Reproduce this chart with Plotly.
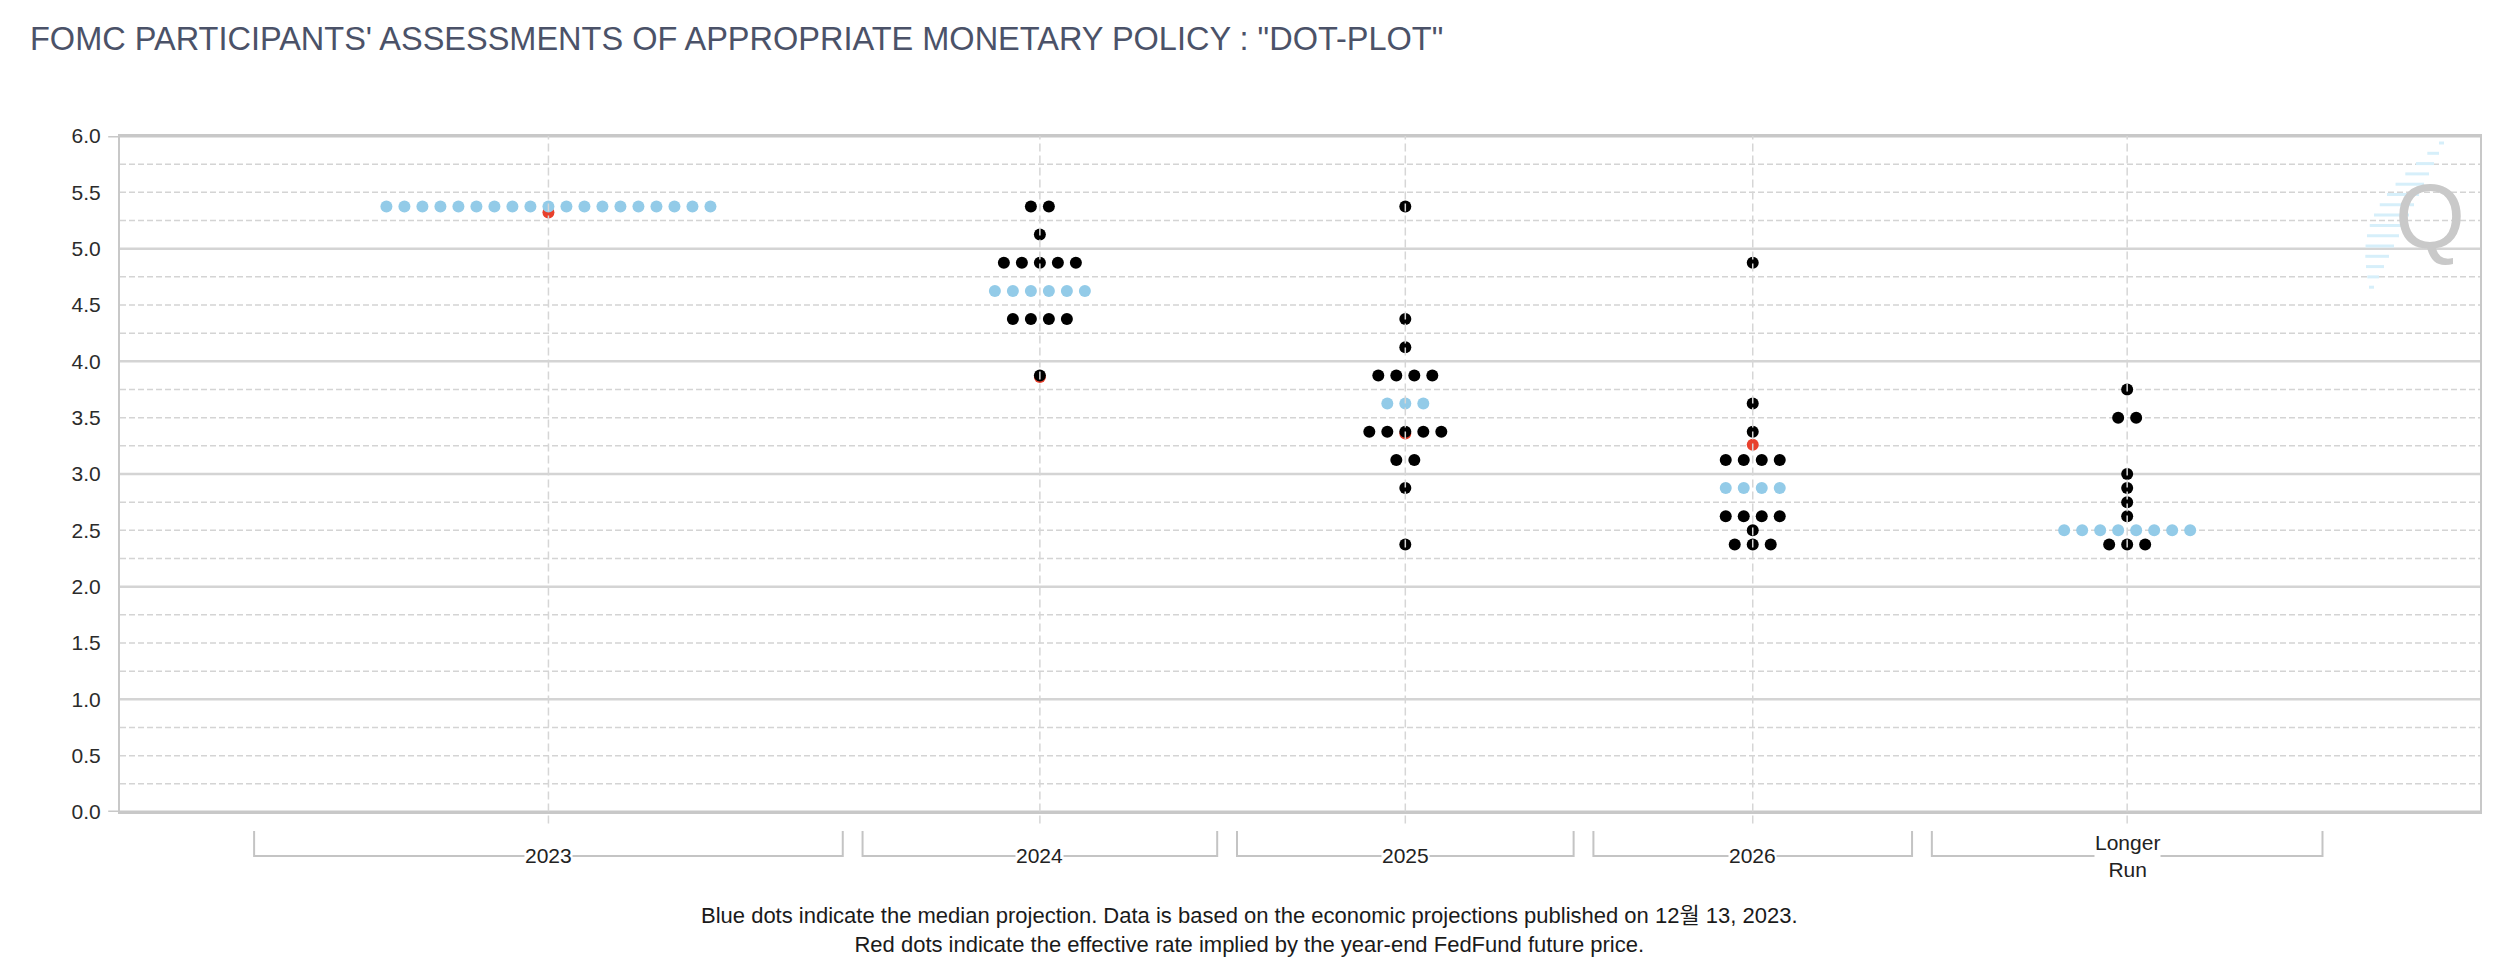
import numpy as np
import plotly.graph_objects as go

# FOMC dot plot, December 2023 projections
categories = ["2023", "2024", "2025", "2026", "Longer<br>Run"]

rates_2023 = [5.375]
counts_2023 = [19]

rates_2024 = [5.375, 5.125, 4.875, 4.625, 4.375, 3.875]
counts_2024 = [2, 1, 5, 6, 4, 1]

rates_2025 = [5.375, 4.375, 4.125, 3.875, 3.625, 3.375, 3.125, 2.875, 2.375]
counts_2025 = [1, 1, 1, 4, 3, 5, 2, 1, 1]

rates_2026 = [4.875, 3.625, 3.375, 3.125, 2.875, 2.625, 2.5, 2.375]
counts_2026 = [1, 1, 1, 4, 4, 4, 1, 3]

rates_lr = [3.75, 3.5, 3.0, 2.875, 2.75, 2.625, 2.5, 2.375]
counts_lr = [1, 2, 1, 1, 1, 1, 8, 3]

median_rates = [5.375, 4.625, 3.625, 2.875, 2.5]
futures_rates = [5.32, 3.86, 3.36, 3.26, None]

y_ticks = [0.0, 0.5, 1.0, 1.5, 2.0, 2.5, 3.0, 3.5, 4.0, 4.5, 5.0, 5.5, 6.0]

footnote = ("Blue dots indicate the median projection. Data is based on the economic "
            "projections published on 12월 13, 2023.<br>"
            "Red dots indicate the effective rate implied by the year-end FedFund future price.")

all_rates = [rates_2023, rates_2024, rates_2025, rates_2026, rates_lr]
all_counts = [counts_2023, counts_2024, counts_2025, counts_2026, counts_lr]

FONT = "Liberation Sans, Arial, Noto Sans CJK KR, sans-serif"
BLUE = "#93cbe8"
RED = "#e8402c"
GRID = "#d4d4d4"

# page has an 8px body margin, so the figure is 8px smaller and margins shifted
W, H = 2487, 968
PL, PR, PT, PB = 112, 15, 128, 164

# x axis is in "dot units": one dot step = 1
SLOT_PAD = 14.8
widths = np.array([max(c) + SLOT_PAD for c in all_counts])
starts = np.concatenate([[0.0], np.cumsum(widths)[:-1]])
centers = starts + widths / 2

black_x, black_y, blue_x, blue_y = [], [], [], []
for k, (rates, counts) in enumerate(zip(all_rates, all_counts)):
    for r, n in zip(rates, counts):
        xs = centers[k] + np.arange(n) - (n - 1) / 2
        if r == median_rates[k]:
            blue_x += list(xs)
            blue_y += [r] * n
        else:
            black_x += list(xs)
            black_y += [r] * n

red_x = [centers[k] for k, v in enumerate(futures_rates) if v is not None]
red_y = [v for v in futures_rates if v is not None]

fig = go.Figure()

fig.add_trace(go.Scatter(
    x=red_x, y=red_y, mode="markers",
    marker=dict(color=RED, size=12), name="Futures", hoverinfo="y"
))
fig.add_trace(go.Scatter(
    x=black_x, y=black_y, mode="markers",
    marker=dict(color="#000000", size=12), name="Participants", hoverinfo="y"
))
fig.add_trace(go.Scatter(
    x=blue_x, y=blue_y, mode="markers",
    marker=dict(color=BLUE, size=12), name="Median", hoverinfo="y"
))

# horizontal grid: solid at integers, dashed at quarters
for v in np.arange(0.25, 6.0, 0.25):
    solid = float(v).is_integer()
    fig.add_shape(type="line", xref="paper", x0=0, x1=1, y0=v, y1=v,
                  layer="below",
                  line=dict(color=GRID, width=2.5 if solid else 1.5,
                            dash="solid" if solid else "6px,3px"))
# top / bottom lines with small outer ticks
for v in [0.0, 6.0]:
    fig.add_shape(type="line", xref="paper", x0=-0.005, x1=1, y0=v, y1=v,
                  layer="below", line=dict(color="#c8c8c8", width=3))

# vertical dashed lines through each category
for c in centers:
    fig.add_shape(type="line", x0=c, x1=c, yref="paper", y0=-0.017, y1=1,
                  layer="above", line=dict(color="#d6d6d6", width=1.5, dash="8px,4px"))

# brackets under the axis
b_top, b_bot = -0.028, -0.065
for k, cat in enumerate(categories):
    x0 = starts[k] + 0.55
    x1 = starts[k] + widths[k] - 0.55
    fig.add_shape(type="path", xref="x", yref="paper",
                  path=f"M {x0},{b_top} L {x0},{b_bot} L {x1},{b_bot} L {x1},{b_top}",
                  line=dict(color="#c4c4c4", width=2))
    fig.add_annotation(x=centers[k], y=b_bot, xref="x", yref="paper",
                       text=cat, showarrow=False, yanchor="middle",
                       bgcolor="white", borderpad=0,
                       font=dict(family=FONT, size=21, color="#222222"))

# footnote
fig.add_annotation(x=0.4788, y=-0.1746, xref="paper", yref="paper",
                   text=footnote, showarrow=False, xanchor="center", yanchor="middle",
                   font=dict(family=FONT, size=22, color="#1a1a1a"))

# watermark logo (faint dashes + Q), placed in page pixels
def px_x(p):
    return (p - 120) / 2360


def px_y(p):
    return (812 - p) / 676


for i in range(15):
    py = 143 + i * 10.3
    right = 2444 - i * 5.0
    ln = 5 + 30 * np.sin(np.pi * i / 14)
    fig.add_shape(type="line", xref="paper", yref="paper",
                  x0=px_x(right - ln), x1=px_x(right), y0=px_y(py), y1=px_y(py),
                  layer="below", line=dict(color="#d6effa", width=3))
fig.add_annotation(x=px_x(2430), y=px_y(165), xref="paper", yref="paper", text="Q",
                   xanchor="center", yanchor="top", showarrow=False,
                   font=dict(family=FONT, size=90, color="#c9c9c9"))

fig.update_layout(
    width=W, height=H,
    margin=dict(l=PL, r=PR, t=PT, b=PB),
    paper_bgcolor="white", plot_bgcolor="white",
    showlegend=False,
    title=dict(
        text='FOMC PARTICIPANTS\' ASSESSMENTS OF APPROPRIATE MONETARY POLICY : "DOT-PLOT"',
        xref="container", yref="container", x=22 / W, y=1 - 31 / H,
        xanchor="left", yanchor="middle",
        font=dict(family=FONT, size=32.5, color="#4b5268")
    ),
    xaxis=dict(range=[-6.9, 124.2], showgrid=False, zeroline=False,
               showticklabels=False, ticks="", showline=True, mirror=True,
               linecolor="#c8c8c8", linewidth=2, fixedrange=True),
    yaxis=dict(range=[0, 6], tickvals=y_ticks, ticktext=[f"{v:.1f}" for v in y_ticks],
               showgrid=False, zeroline=False, ticks="outside", ticklen=13,
               tickcolor="rgba(0,0,0,0)", showline=True, mirror=True,
               linecolor="#c8c8c8", linewidth=2,
               tickfont=dict(family=FONT, size=21, color="#2b2b2b")),
)

fig.write_html("out.html")
